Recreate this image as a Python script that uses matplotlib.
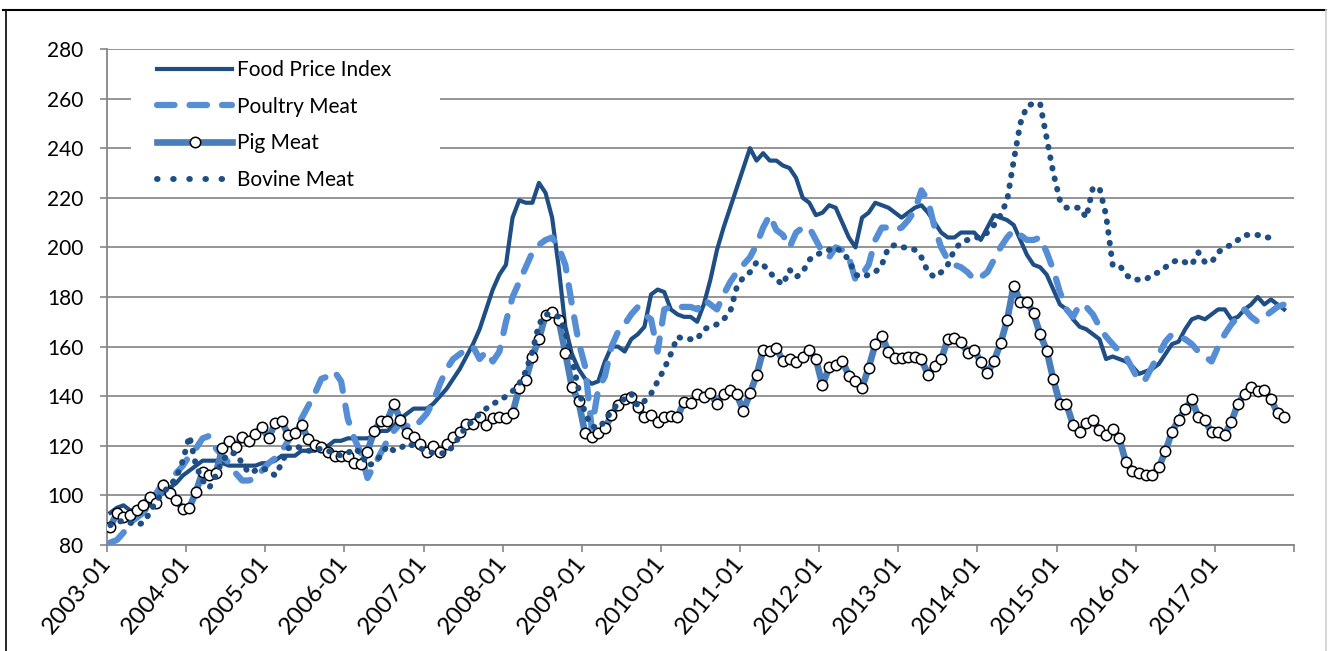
import numpy as np
import matplotlib
matplotlib.use("Agg")
import matplotlib.pyplot as plt
from matplotlib.lines import Line2D
from matplotlib.patches import Rectangle

plt.rcParams['font.family'] = ['Lato', 'DejaVu Sans']

# monthly index values, 2003-01 onwards
food_price = [
    93, 95, 96, 94, 94, 95, 96, 99, 101, 103, 105, 108,
    110, 112, 114, 114, 114, 113, 112, 112, 112, 112, 112, 113,
    113, 114, 116, 116, 116, 118, 118, 118, 119, 120, 122, 122,
    123, 123, 123, 123, 124, 126, 126, 128, 131, 133, 135, 135,
    135, 137, 140, 143, 147, 151, 156, 161, 167, 175, 183, 189,
    193, 212, 219, 218, 218, 226, 222, 212, 192, 168, 157, 151,
    147, 145, 146, 154, 160, 160, 158, 163, 165, 168, 181, 183,
    182, 175, 173, 172, 172, 170, 177, 187, 199, 208, 216, 224,
    232, 240, 235, 238, 235, 235, 233, 232, 228, 220, 218, 213,
    214, 217, 216, 210, 204, 200, 212, 214, 218, 217, 216, 214,
    212, 214, 216, 217, 214, 210, 206, 204, 204, 206, 206, 206,
    203, 208, 213, 212, 211, 209, 203, 197, 193, 192, 189, 183,
    177, 175, 171, 168, 167, 165, 163, 155, 156, 155, 154, 152,
    149, 150, 151, 153, 157, 161, 162, 167, 171, 172, 171, 173,
    175, 175, 171, 172, 175, 177, 180, 177, 179, 177, 175,
]

poultry = [
    81, 82, 85, 89, 91, 93, 97, 101, 105, 107, 109, 112,
    116, 119, 123, 124, 119, 116, 113, 109, 106, 106, 107, 110,
    113, 115, 118, 122, 127, 131, 136, 141, 147, 148, 150, 146,
    131, 123, 117, 107, 112, 117, 122, 126, 129, 128, 127, 130,
    133, 138, 145, 151, 155, 157, 159, 160, 155, 158, 154, 158,
    170, 180, 186, 192, 198, 201, 203, 204, 200, 193, 177, 162,
    152, 127, 143, 148, 160, 166, 169, 173, 176, 173, 171, 158,
    175, 176, 176, 176, 176, 175, 179, 177, 175, 181, 186, 190,
    193, 196, 201, 208, 213, 207, 205, 200, 206, 208, 208, 203,
    198, 196, 200, 199, 196, 187, 189, 193, 203, 208, 208, 207,
    208, 211, 215, 223, 219, 208, 200, 195, 193, 192, 190, 187,
    188, 190, 195, 200, 204, 207, 205, 203, 203, 204, 198, 191,
    182, 175, 172, 177, 176, 173, 168, 164, 161, 158, 156, 151,
    146, 147, 152, 157, 162, 165, 164, 163, 161, 158, 156, 154,
    160, 165, 169, 172, 175, 172, 170, 172, 174, 176, 177,
]

pig = [
    87.4, 92.8, 91.4, 92.1, 94.1, 96.2, 99.5, 97.1, 104.2, 100.9, 98.2, 94.5,
    95.1, 101.5, 109.6, 108.3, 108.9, 119.0, 122.1, 119.7, 123.7, 122.1, 124.8, 127.5,
    123.1, 129.1, 129.8, 124.4, 125.1, 128.5, 122.7, 120.4, 119.4, 117.7, 115.9, 115.7,
    115.9, 113.0, 112.7, 117.7, 125.8, 130.2, 130.2, 136.8, 130.5, 125.1, 123.7, 120.8,
    117.3, 120.0, 117.4, 120.7, 123.4, 125.7, 128.8, 128.8, 131.7, 128.4, 131.1, 131.5,
    131.1, 133.1, 143.2, 146.5, 155.9, 163.1, 172.7, 174.1, 170.7, 157.6, 143.8, 138.1,
    125.0, 123.4, 125.0, 127.0, 132.4, 136.5, 138.9, 139.5, 135.5, 131.5, 132.4, 129.7,
    131.5, 132.0, 131.5, 137.8, 137.4, 140.9, 139.8, 141.2, 136.9, 140.8, 142.5, 140.8,
    134.0, 141.2, 148.4, 158.6, 158.4, 159.3, 154.3, 154.9, 153.9, 155.7, 158.6, 154.9,
    144.5, 151.6, 152.6, 154.3, 148.3, 146.3, 143.4, 151.5, 160.9, 164.3, 158.0, 155.5,
    155.3, 155.9, 155.9, 154.9, 148.7, 152.2, 154.9, 162.9, 163.6, 162.0, 157.6, 158.6,
    153.9, 149.2, 154.2, 161.3, 170.7, 184.6, 178.1, 178.1, 173.4, 165.1, 158.4, 146.8,
    136.9, 136.9, 128.4, 125.4, 129.3, 130.4, 126.4, 124.2, 126.6, 123.0, 113.5, 110.0,
    109.2, 108.2, 108.2, 111.3, 117.8, 125.7, 130.4, 134.8, 138.7, 131.5, 130.4, 125.4,
    125.4, 124.5, 129.7, 136.9, 140.9, 143.8, 142.1, 142.5, 139.0, 133.1, 131.5,
]

bovine = [
    88, 89, 90, 89, 88, 89, 93, 98, 101, 104, 107, 114,
    124, 112, 106, 103, 108, 114, 117, 117, 113, 109, 110, 111,
    110, 108, 113, 119, 120, 119, 118, 118, 119, 118, 117, 116,
    117, 119, 117, 112, 113, 116, 120, 118, 119, 121, 120, 119,
    118, 117, 117, 117, 120, 124, 128, 130, 133, 135, 137, 138,
    140, 142, 145, 150, 158, 169, 173, 173, 172, 166, 155, 143,
    133, 128, 127, 130, 134, 137, 139, 141, 136, 138, 141, 146,
    151, 157, 164, 163, 163, 163, 167, 168, 169, 171, 174, 184,
    188, 190, 194, 193, 190, 187, 185, 191, 188, 190, 195, 197,
    198, 199, 200, 198, 195, 189, 188, 189, 190, 193, 200, 201,
    200, 200, 199, 196, 190, 188, 190, 193, 199, 202, 203, 204,
    204, 206, 209, 213, 219, 235, 250, 257, 258, 258, 244, 230,
    219, 216, 216, 216, 212, 224, 224, 213, 193, 193, 189, 187,
    187, 187, 189, 190, 192, 194, 195, 194, 193, 198, 194, 194,
    198, 200, 201, 203, 205, 205, 205, 204, 204,
]

year_labels = ['2003-01', '2004-01', '2005-01', '2006-01', '2007-01',
               '2008-01', '2009-01', '2010-01', '2011-01', '2012-01',
               '2013-01', '2014-01', '2015-01', '2016-01', '2017-01']

dark = '#1F4E85'
light = '#558ED5'
mid = '#4A7EBB'

fig = plt.figure(figsize=(13.28, 6.51), dpi=100)
ax = fig.add_axes([107 / 1328, 1 - 545 / 651, (1294 - 107) / 1328, (545 - 49) / 651])

ax.plot(np.arange(len(food_price)), food_price, color=dark, lw=3.0,
        solid_joinstyle='round', zorder=3)
ax.plot(np.arange(len(poultry)), poultry, color=light, lw=4.5,
        linestyle=(0, (2.8, 2.4)), dash_capstyle='round', zorder=3)
ax.plot(np.arange(len(pig)), pig, color=mid, lw=4.8, marker='o', ms=7.5,
        mfc='white', mec='black', mew=1.1, zorder=4)
ax.plot(np.arange(len(bovine)), bovine, color=dark, lw=4.3,
        linestyle=(0, (0.1, 1.7)), dash_capstyle='round', zorder=5)

ax.set_xlim(-0.5, 179.5)
ax.set_ylim(80, 280)
ax.set_yticks(np.arange(80, 281, 20))
ax.set_xticks(np.arange(-0.5, 180, 12))
ax.set_xticklabels(year_labels + [''])
for lbl in ax.get_xticklabels():
    lbl.set_rotation(50)
    lbl.set_ha('right')
    lbl.set_va('center')
    lbl.set_rotation_mode('anchor')

ax.yaxis.grid(True, color='#8c8c8c', lw=1.3)
ax.set_axisbelow(True)
for s in ['top', 'right']:
    ax.spines[s].set_visible(False)
for s in ['left', 'bottom']:
    ax.spines[s].set_color('#868686')
    ax.spines[s].set_linewidth(1.3)
ax.tick_params(axis='y', length=5, width=1.2, color='#868686', pad=12, labelsize=15)
ax.tick_params(axis='x', length=5, width=1.2, color='#868686', pad=5, labelsize=17.5)

# white legend area hides the gridlines
ax.add_patch(Rectangle(((131 - 107) / 1187, (545 - 195) / 496), (440 - 131) / 1187,
                       (195 - 52) / 496, transform=ax.transAxes,
                       facecolor='white', edgecolor='none', zorder=1.5))

handles = [
    Line2D([], [], color=dark, lw=3.0),
    Line2D([], [], color=light, lw=4.5, linestyle=(0, (2.8, 2.4)), dash_capstyle='round'),
    Line2D([], [], color=mid, lw=4.8, marker='o', ms=7.5, mfc='white', mec='black', mew=1.1),
    Line2D([], [], color=dark, lw=4.3, linestyle=(0, (0.1, 2.6)), dash_capstyle='round'),
]
labels = ['Food Price Index', 'Poultry Meat', 'Pig Meat', 'Bovine Meat']
leg = ax.legend(handles, labels, loc='upper left',
                bbox_to_anchor=((157 - 107) / 1187, (545 - 60) / 496),
                frameon=False, fontsize=15, handlelength=3.6, handletextpad=0.25,
                labelspacing=0.8, borderpad=0, borderaxespad=0)
leg.set_zorder(6)

# chart area border
fig.add_artist(Line2D([3 / 1328, 1326 / 1328], [1 - 10 / 651] * 2,
                      transform=fig.transFigure, color='black', lw=1.5))
fig.add_artist(Line2D([6 / 1328] * 2, [0, 1 - 10 / 651],
                      transform=fig.transFigure, color='black', lw=1.2))
fig.add_artist(Line2D([1326 / 1328] * 2, [0, 1 - 10 / 651],
                      transform=fig.transFigure, color='#d0d0d0', lw=1.2))

fig.savefig('out.png', dpi=100)
